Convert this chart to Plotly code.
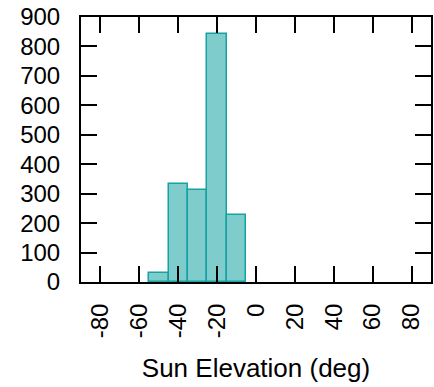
import plotly.graph_objects as go

bin_centers = [-50, -40, -30, -20, -10]
counts = [32, 333, 314, 841, 228]
x_tick_vals = [-80, -60, -40, -20, 0, 20, 40, 60, 80]
x_tick_text = ["-80", "-60", "-40", "-20", "0", "20", "40", "60", "80"]
y_tick_vals = [0, 100, 200, 300, 400, 500, 600, 700, 800, 900]
x_title = "Sun Elevation (deg)"

FONT = "Liberation Sans, Arial, sans-serif"

fig = go.Figure(go.Bar(
    x=bin_centers, y=counts, width=10,
    marker=dict(color="rgba(0,153,153,0.5)", line=dict(color="#16a2a2", width=1.5)),
))

fig.update_layout(
    width=434, height=387,
    margin=dict(l=81, r=1, t=17, b=105),
    paper_bgcolor="white", plot_bgcolor="white",
    showlegend=False,
    font=dict(family=FONT, size=24, color="black"),
    bargap=0,
)
fig.update_xaxes(
    range=[-90, 90], tickvals=x_tick_vals, ticktext=x_tick_text, tickangle=-90,
    ticks="inside", ticklen=16, tickwidth=1.5, tickcolor="black",
    showline=True, linewidth=2, linecolor="black", mirror="allticks",
    showgrid=False, zeroline=False,
    ticklabelstandoff=10,
    tickfont=dict(size=24),
    title=dict(text=x_title, font=dict(size=26), standoff=22),
)
fig.update_yaxes(
    range=[0, 900], tickvals=y_tick_vals,
    ticks="inside", ticklen=16, tickwidth=1.5, tickcolor="black",
    showline=True, linewidth=2, linecolor="black", mirror="allticks",
    showgrid=False, zeroline=False,
    tickfont=dict(size=24),
    ticklabelstandoff=14,
)

fig.write_html("out.html")
